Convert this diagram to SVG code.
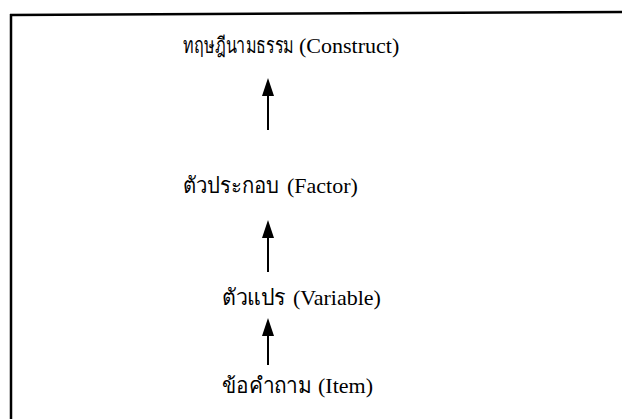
<svg xmlns="http://www.w3.org/2000/svg" width="622" height="419" viewBox="0 0 622 419">
<style>
.t{font-family:"Liberation Serif","Noto Sans","DejaVu Sans",serif;font-size:22px;fill:#000}
.c{stroke:#000;stroke-width:2;fill:none}
.b{stroke:#000;stroke-width:2.5;fill:none}
</style>
<rect width="622" height="419" fill="#fff"/>
<g id="frame">
<line class="b" x1="10" y1="15" x2="622" y2="12"/>
<line class="b" x1="11" y1="14" x2="11" y2="419"/>
</g>
<g id="construct">
<text class="t" x="0" y="0" transform="translate(183,53) scale(0.73,1)">ทฤษฎีนามธรรม</text>
<text class="t" x="299" y="53">(Construct)</text>
</g>
<g id="factor">
<text class="t" x="183" y="193" textLength="96" lengthAdjust="spacingAndGlyphs">ตัวประกอบ</text>
<text class="t" x="287" y="193">(Factor)</text>
</g>
<g id="variable">
<text class="t" x="222" y="305" textLength="64" lengthAdjust="spacingAndGlyphs">ตัวแปร</text>
<text class="t" x="293" y="305">(Variable)</text>
</g>
<g id="item">
<text class="t" x="222" y="393" textLength="90" lengthAdjust="spacingAndGlyphs">ข้อคำถาม</text>
<text class="t" x="318" y="393">(Item)</text>
</g>
<g id="connectors">
<line class="c" x1="268" y1="130" x2="268" y2="94"/>
<path d="M262,96 L274,96 L268,78 Z" fill="#000"/>
<line class="c" x1="268" y1="272" x2="268" y2="236"/>
<path d="M262,238 L274,238 L268,220 Z" fill="#000"/>
<line class="c" x1="268" y1="365" x2="268" y2="334"/>
<path d="M262,336 L274,336 L268,318 Z" fill="#000"/>
</g>
</svg>
